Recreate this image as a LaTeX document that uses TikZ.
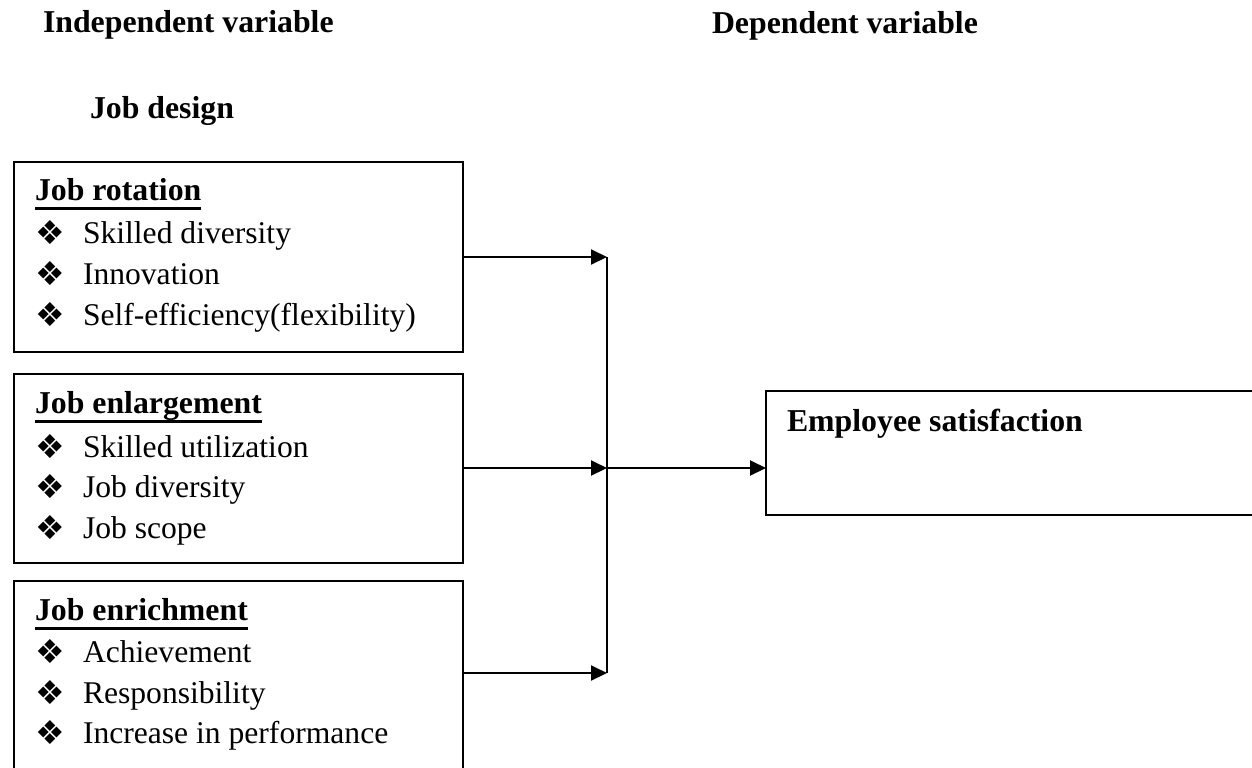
\documentclass[tikz,border=0pt]{standalone}
\usepackage{fontspec}
\setmainfont{Liberation Serif}
\newfontfamily\symfont{DejaVu Sans}
\usetikzlibrary{arrows.meta}
\newcommand\bul{\makebox[24pt][l]{\raisebox{-0.6pt}{\symfont\fontsize{16.5}{18}\selectfont ❖}}}
\newcommand\ulbox[1]{\setbox0\hbox{#1}\rlap{\rule[-4.9pt]{\wd0}{1.5pt}}\box0}
\tikzset{
  every node/.style={inner sep=0pt, outer sep=0pt},
  txt/.style={anchor=base west, font=\fontsize{15.8}{18}\selectfont},
  head/.style={anchor=base west, font=\fontsize{15.9}{18}\selectfont\bfseries},
  boxn/.style={draw, line width=1pt, anchor=north west, minimum width=224.5pt},
  conn/.style={line width=1pt, -{Triangle[length=8pt,width=7.5pt]}},
  plain/.style={line width=1pt}
}
\begin{document}
\begin{tikzpicture}[x=0.5pt,y=-0.5pt]
\path[use as bounding box] (0,0) rectangle (1252,767);
\clip (0,0) rectangle (1252,767);
% headings
\node[head] (hind) at (43,32) {Independent variable};
\node[head] (hdep) at (712,33) {Dependent variable};
\node[head] (hjd) at (90,118) {Job design};
% boxes
\node[boxn, minimum height=95pt] (b1) at (14,162) {};
\node[boxn, minimum height=94.5pt] (b2) at (14,374) {};
\node[boxn, minimum height=115pt] (b3) at (14,581) {};
\node[draw, line width=1pt, anchor=north west, minimum width=252pt, minimum height=62pt] (emp) at (766,391) {};
% box 1
\node[head] (t1) at (35,200) {\ulbox{Job rotation}};
\node[txt] (t1a) at (35,243) {\bul Skilled diversity};
\node[txt] (t1b) at (35,284) {\bul Innovation};
\node[txt] (t1c) at (35,325) {\bul Self-efficiency(flexibility)};
% box 2
\node[head] (t2) at (35,413) {\ulbox{Job enlargement}};
\node[txt] (t2a) at (35,457) {\bul Skilled utilization};
\node[txt] (t2b) at (35,497) {\bul Job diversity};
\node[txt] (t2c) at (35,538) {\bul Job scope};
% box 3
\node[head] (t3) at (35,620) {\ulbox{Job enrichment}};
\node[txt] (t3a) at (35,662) {\bul Achievement};
\node[txt] (t3b) at (35,703) {\bul Responsibility};
\node[txt] (t3c) at (35,743) {\bul Increase in performance};
% dependent
\node[head] (te) at (787,431) {Employee satisfaction};
% connectors
\coordinate (j1) at (607,257);
\coordinate (j2) at (607,468);
\coordinate (j3) at (607,673);
\draw[conn] (b1.east |- j1) -- (j1);
\draw[conn] (b2.east |- j2) -- (j2);
\draw[conn] (b3.east |- j3) -- (j3);
\draw[plain] (j1) -- (j3);
\draw[conn] (j2) -- (emp.west |- j2);
\end{tikzpicture}
\end{document}
